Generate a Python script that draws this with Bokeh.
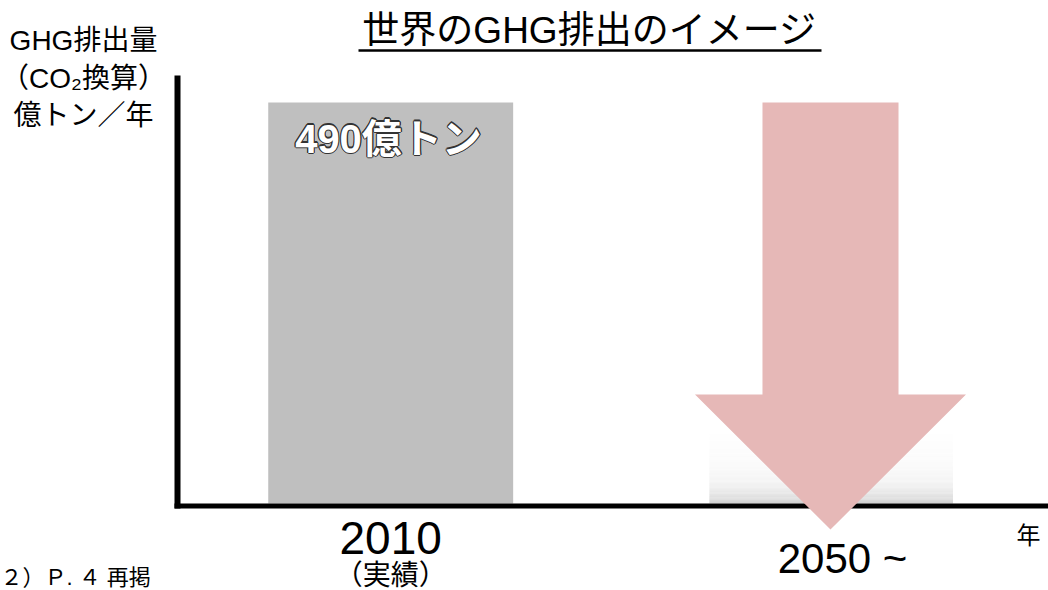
from bokeh.plotting import figure
from bokeh.models import Range1d
from bokeh.core.properties import value
from bokeh.embed import file_html
from bokeh.resources import INLINE

# ---- data ----
categories = ["2010", "2050 ~"]
sublabels = ["（実績）", ""]
values = [490, 89]          # 億トン (2050 value is illustrative)
bar_label = "490億トン"
title_text = "世界のGHG排出のイメージ"
ylabel_lines = ["GHG排出量", "（CO₂換算）", "億トン／年"]
xlabel_text = "年"
source_note = "２）Ｐ. ４ 再掲"

FONT = "'Liberation Sans', 'Noto Sans CJK JP', sans-serif"

# ---- layout helpers (picture pixel -> data) ----
X0, KX = 390.2, 440.5
Y0, KY = 503.0, 401.0 / 490.0
def dx(px):
    return (px - X0) / KX
def dy(py):
    return (Y0 - py) / KY

W, H = 1048, 590
p = figure(width=W, height=H, output_backend="svg", toolbar_location=None,
           x_range=Range1d(dx(0), dx(W)), y_range=Range1d(dy(H), dy(0)),
           x_axis_type=None, y_axis_type=None, min_border=0,
           outline_line_color=None, background_fill_color="white")

xs = list(range(len(categories)))

# 2010 bar
p.vbar(x=[xs[0]], top=[values[0]], bottom=0, width=0.556,
       fill_color="#BFBFBF", line_color=None)

# 2050 gradient bar
n = 60
left, right, bots, tops, cols = [], [], [], [], []
for i in range(n):
    t = 1 - (i + 0.5) / n  # 0 at top, 1 at bottom
    g = int(round(255 - 10 * t - 38 * t ** 6))
    left.append(xs[1] - 0.2765)
    right.append(xs[1] + 0.2765)
    bots.append(values[1] * i / n)
    tops.append(values[1] * (i + 1) / n + 0.3)
    cols.append("#%02x%02x%02x" % (g, g, g))
p.quad(left=left, right=right, bottom=bots, top=tops, fill_color=cols, line_color=None)

# axes lines
p.segment(x0=[dx(177)], y0=[dy(75)], x1=[dx(177)], y1=[dy(508)],
          line_color="black", line_width=6, line_cap="butt")
p.segment(x0=[dx(174)], y0=[dy(505.5)], x1=[dx(1048)], y1=[dy(505.5)],
          line_color="black", line_width=5, line_cap="butt")

# down arrow over 2050
c = xs[1] - 0.0016
sw, hw = 0.1544, 0.3076
hb, tip = dy(394), dy(529)
p.patch(x=[c - sw, c + sw, c + sw, c + hw, c, c - hw, c - sw],
        y=[values[0], values[0], hb, hb, tip, hb, hb],
        fill_color="#E6B8B7", line_color=None)

# bar value label (white with dark outline)
for ox, oy in [(-1.2, 0), (1.2, 0), (0, -1.2), (0, 1.2), (-0.9, -0.9), (0.9, 0.9), (-0.9, 0.9), (0.9, -0.9)]:
    p.text(x=[dx(388)], y=[dy(138)], text=[bar_label], text_font=value(FONT),
           text_font_size="40px", text_font_style="bold", text_color="#333333",
           x_offset=ox, y_offset=oy, text_align="center", text_baseline="middle")
p.text(x=[dx(388)], y=[dy(138)], text=[bar_label], text_font=value(FONT),
       text_font_size="40px", text_font_style="bold", text_color="white",
       text_align="center", text_baseline="middle")

# category labels
p.text(x=[xs[0]], y=[dy(537)], text=[categories[0]], text_font=value(FONT),
       text_font_size="46px", text_color="black", text_align="center", text_baseline="middle")
p.text(x=[xs[0]], y=[dy(575)], text=[sublabels[0]], text_font=value(FONT),
       text_font_size="28px", text_color="black", text_align="center", text_baseline="middle")
p.text(x=[dx(842)], y=[dy(558)], text=[categories[1]], text_font=value(FONT),
       text_font_size="42px", text_color="black", text_align="center", text_baseline="middle")

# x label
p.text(x=[dx(1028)], y=[dy(535)], text=[xlabel_text], text_font=value(FONT),
       text_font_size="24px", text_color="black", text_align="center", text_baseline="middle")

# y label
for line, py in zip(ylabel_lines, [40, 78, 115]):
    p.text(x=[dx(83)], y=[dy(py)], text=[line], text_font=value(FONT),
           text_font_size="28px", text_color="black", text_align="center", text_baseline="middle")

# title + underline
p.text(x=[dx(589)], y=[dy(30)], text=[title_text], text_font=value(FONT),
       text_font_size="37px", text_color="black", text_align="center", text_baseline="middle")
p.segment(x0=[dx(358)], y0=[dy(50)], x1=[dx(821)], y1=[dy(50)],
          line_color="black", line_width=2.5, line_cap="butt")

# source note
p.text(x=[dx(0)], y=[dy(577)], text=[source_note], text_font=value(FONT),
       text_font_size="22px", text_color="black", text_align="left", text_baseline="middle")

open("out.html", "w").write(file_html(p, INLINE))
